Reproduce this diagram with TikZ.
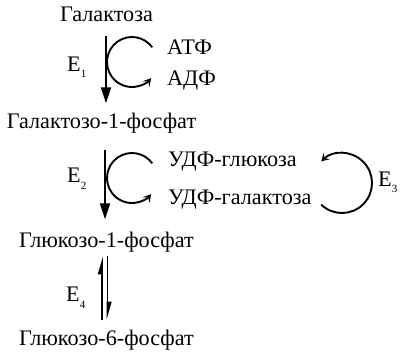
\documentclass[tikz,border=0pt]{standalone}
\usepackage{fontspec}
\setmainfont{Liberation Serif}
\usetikzlibrary{arrows.meta}
\begin{document}
\begin{tikzpicture}[x=1pt,y=-1pt,
  txt/.style={inner sep=0pt,font=\fontsize{22.2}{24}\selectfont},
  mainarr/.style={line width=1.8pt,-{Triangle[length=16pt,width=10pt]}},
  arcarr/.style={line width=1.9pt,-{Stealth[length=8pt,width=9pt,inset=3.5pt]}},
  eqarr/.style={line width=1.8pt,-{Triangle[harpoon,length=15pt,width=8pt]}}]
\useasboundingbox (0,0) rectangle (400,353);
% substances
\node[txt,anchor=base] (gal)   at (106.5,22)  {Галактоза};
\node[txt,anchor=base] (gal1p) at (101.5,129) {Галактозо-1-фосфат};
\node[txt,anchor=base] (glc1p) at (106.5,248) {Глюкозо-1-фосфат};
\node[txt,anchor=base] (glc6p) at (106.5,345) {Глюкозо-6-фосфат};
\node[txt,anchor=base west] (atf)    at (167,55)  {АТФ};
\node[txt,anchor=base west] (adf)    at (167,86)  {АДФ};
\node[txt,anchor=base west] (udpg)   at (168,167) {УДФ-глюкоза};
\node[txt,anchor=base west] (udpgal) at (168,205) {УДФ-галактоза};
% enzymes
\newcommand{\enz}[1]{E\raisebox{-6pt}{\fontsize{11}{11}\selectfont #1}}
\node[txt,anchor=base west] (e1) at (67,72)  {\enz{1}};
\node[txt,anchor=base west] (e2) at (67,183) {\enz{2}};
\node[txt,anchor=base west] (e3) at (378,187) {\enz{3}};
\node[txt,anchor=base west] (e4) at (66,302) {\enz{4}};
% axes
\coordinate (ax1) at (106,0);
\coordinate (ax2) at (105,0);
\coordinate (axL) at (102,0);
\coordinate (axR) at (107.5,0);
% main arrows
\draw[mainarr,shorten <=14pt,shorten >=10pt] (gal.base -| ax1) -- (gal1p.north -| ax1);
\draw[mainarr,shorten <=21pt,shorten >=13pt] (gal1p.base -| ax2) -- (glc1p.north -| ax2);
% equilibrium
\draw[eqarr,shorten <=25pt,shorten >=8pt] (glc6p.base -| axL) -- (glc1p.base -| axL);
\draw[eqarr,shorten <=8pt,shorten >=25pt] (glc1p.base -| axR) -- (glc6p.base -| axR);
% cofactor arcs
\coordinate (c1) at (132,62);
\coordinate (c2) at (132,178);
\coordinate (c3) at (342,183);
\draw[arcarr] ([shift={(324:25)}]c1) arc[start angle=324,end angle=40,radius=25];
\draw[arcarr] ([shift={(324:25)}]c2) arc[start angle=324,end angle=40,radius=25];
\draw[arcarr] ([shift={(134:30)}]c3) arc[start angle=134,end angle=-134,radius=30];
\end{tikzpicture}
\end{document}
